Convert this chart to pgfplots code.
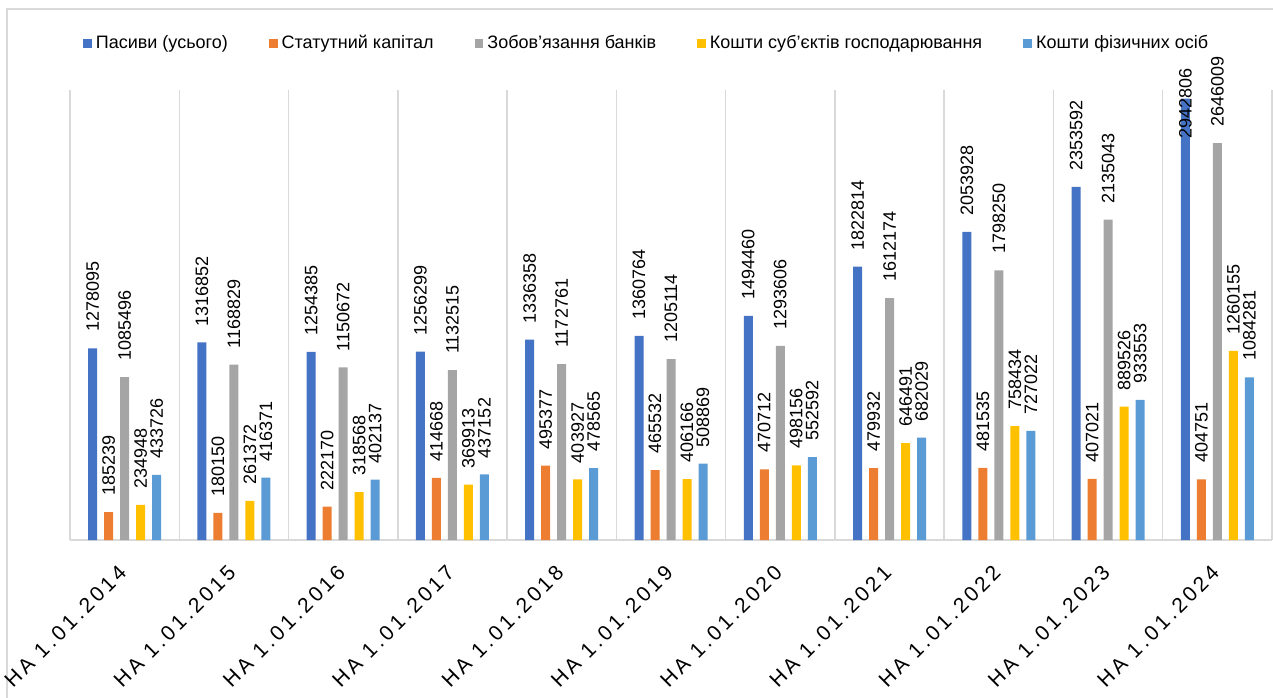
\documentclass[border=0pt]{standalone}
\usepackage{fontspec}
\setmainfont{Liberation Sans}
\newfontfamily\tickfont{Liberation Sans}[LetterSpace=16]
\usepackage{pgfplots}
\usepackage{pgfplotstable}
\pgfplotsset{compat=1.18}
\definecolor{cA}{HTML}{4472C4}
\definecolor{cB}{HTML}{ED7D31}
\definecolor{cC}{HTML}{A5A5A5}
\definecolor{cD}{HTML}{FFC000}
\definecolor{cE}{HTML}{5B9BD5}
\definecolor{frame}{HTML}{D9D9D9}

\pgfplotstableread{
x y dy
0 1278095 8
1 1316852 8
2 1254385 8
3 1256299 8
4 1336358 8
5 1360764 8
6 1494460 8
7 1822814 8
8 2053928 8
9 2353592 8
10 2942806 -20
}\tblA
\pgfplotstableread{
x y dy
0 185239 8
1 180150 8
2 222170 8
3 414668 8
4 495377 8
5 465532 8
6 470712 8
7 479932 8
8 481535 8
9 407021 8
10 404751 8
}\tblB
\pgfplotstableread{
x y dy
0 1085496 8
1 1168829 8
2 1150672 8
3 1132515 8
4 1172761 8
5 1205114 8
6 1293606 8
7 1612174 8
8 1798250 8
9 2135043 8
10 2646009 8
}\tblC
\pgfplotstableread{
x y dy
0 234948 8
1 261372 8
2 318568 8
3 369913 8
4 403927 8
5 406166 8
6 498156 8
7 646491 8
8 758434 8
9 889526 8
10 1260155 8
}\tblD
\pgfplotstableread{
x y dy
0 433726 8
1 416371 8
2 402137 8
3 437152 8
4 478565 8
5 508869 8
6 552592 8
7 682029 8
8 727022 8
9 933553 8
10 1084281 8
}\tblE

\pgfplotsset{lg/.style={legend image code/.code={\fill[##1] (0pt,-2.2pt) rectangle (4.4pt,2.2pt);}}}

\begin{document}
\begin{tikzpicture}
\path[use as bounding box] (0,0) rectangle (636.5pt,348.5pt);
\draw[frame, line width=0.75pt] (3.5pt,-2pt) rectangle (640pt,344pt);
\begin{axis}[
  at={(35pt,78.5pt)}, anchor=south west,
  scale only axis, width=601pt, height=225pt,
  ybar=3.5pt, bar width=4.5pt,
  xmin=-0.5, xmax=10.5, ymin=0, ymax=3000000,
  enlargelimits=false, clip=false,
  axis x line*=bottom, axis y line=none,
  x axis line style={frame, line width=0.75pt},
  xtick={0,...,10},
  xticklabels={НА 1.01.2014,НА 1.01.2015,НА 1.01.2016,НА 1.01.2017,НА 1.01.2018,НА 1.01.2019,НА 1.01.2020,НА 1.01.2021,НА 1.01.2022,НА 1.01.2023,НА 1.01.2024},
  xticklabel style={yshift=-12pt, xshift=1.5pt, rotate=45, anchor=east, font=\tickfont\fontsize{10.5}{12}\selectfont},
  major tick length=0pt, minor tick length=0pt,
  minor xtick={-0.5,0.5,...,10.5},
  xminorgrids=true,
  minor x grid style={frame, line width=0.75pt},
  ytick=\empty,
  point meta=explicit symbolic,
  visualization depends on={\thisrow{dy} \as \dy},
  nodes near coords,
  every node near coord/.append style={yshift=\dy pt, rotate=90, anchor=west, inner sep=0pt, font=\fontsize{9}{11}\selectfont, text=black},
  legend columns=5,
  legend cell align=left,
  legend style={at={(0.4805,1.104)}, anchor=center, draw=none, fill=none, font=\fontsize{9}{11}\selectfont,
    /tikz/every even column/.append style={column sep=18.5pt}},
]
\addplot[fill=cA, draw=none, lg] table[x=x,y=y,meta=y] {\tblA};
\addlegendentry{Пасиви (усього)}
\addplot[fill=cB, draw=none, lg] table[x=x,y=y,meta=y] {\tblB};
\addlegendentry{Статутний капітал}
\addplot[fill=cC, draw=none, lg] table[x=x,y=y,meta=y] {\tblC};
\addlegendentry{Зобов'язання банків}
\addplot[fill=cD, draw=none, lg] table[x=x,y=y,meta=y] {\tblD};
\addlegendentry{Кошти суб'єктів господарювання}
\addplot[fill=cE, draw=none, lg] table[x=x,y=y,meta=y] {\tblE};
\addlegendentry{Кошти фізичних осіб}
\end{axis}
\end{tikzpicture}
\end{document}
